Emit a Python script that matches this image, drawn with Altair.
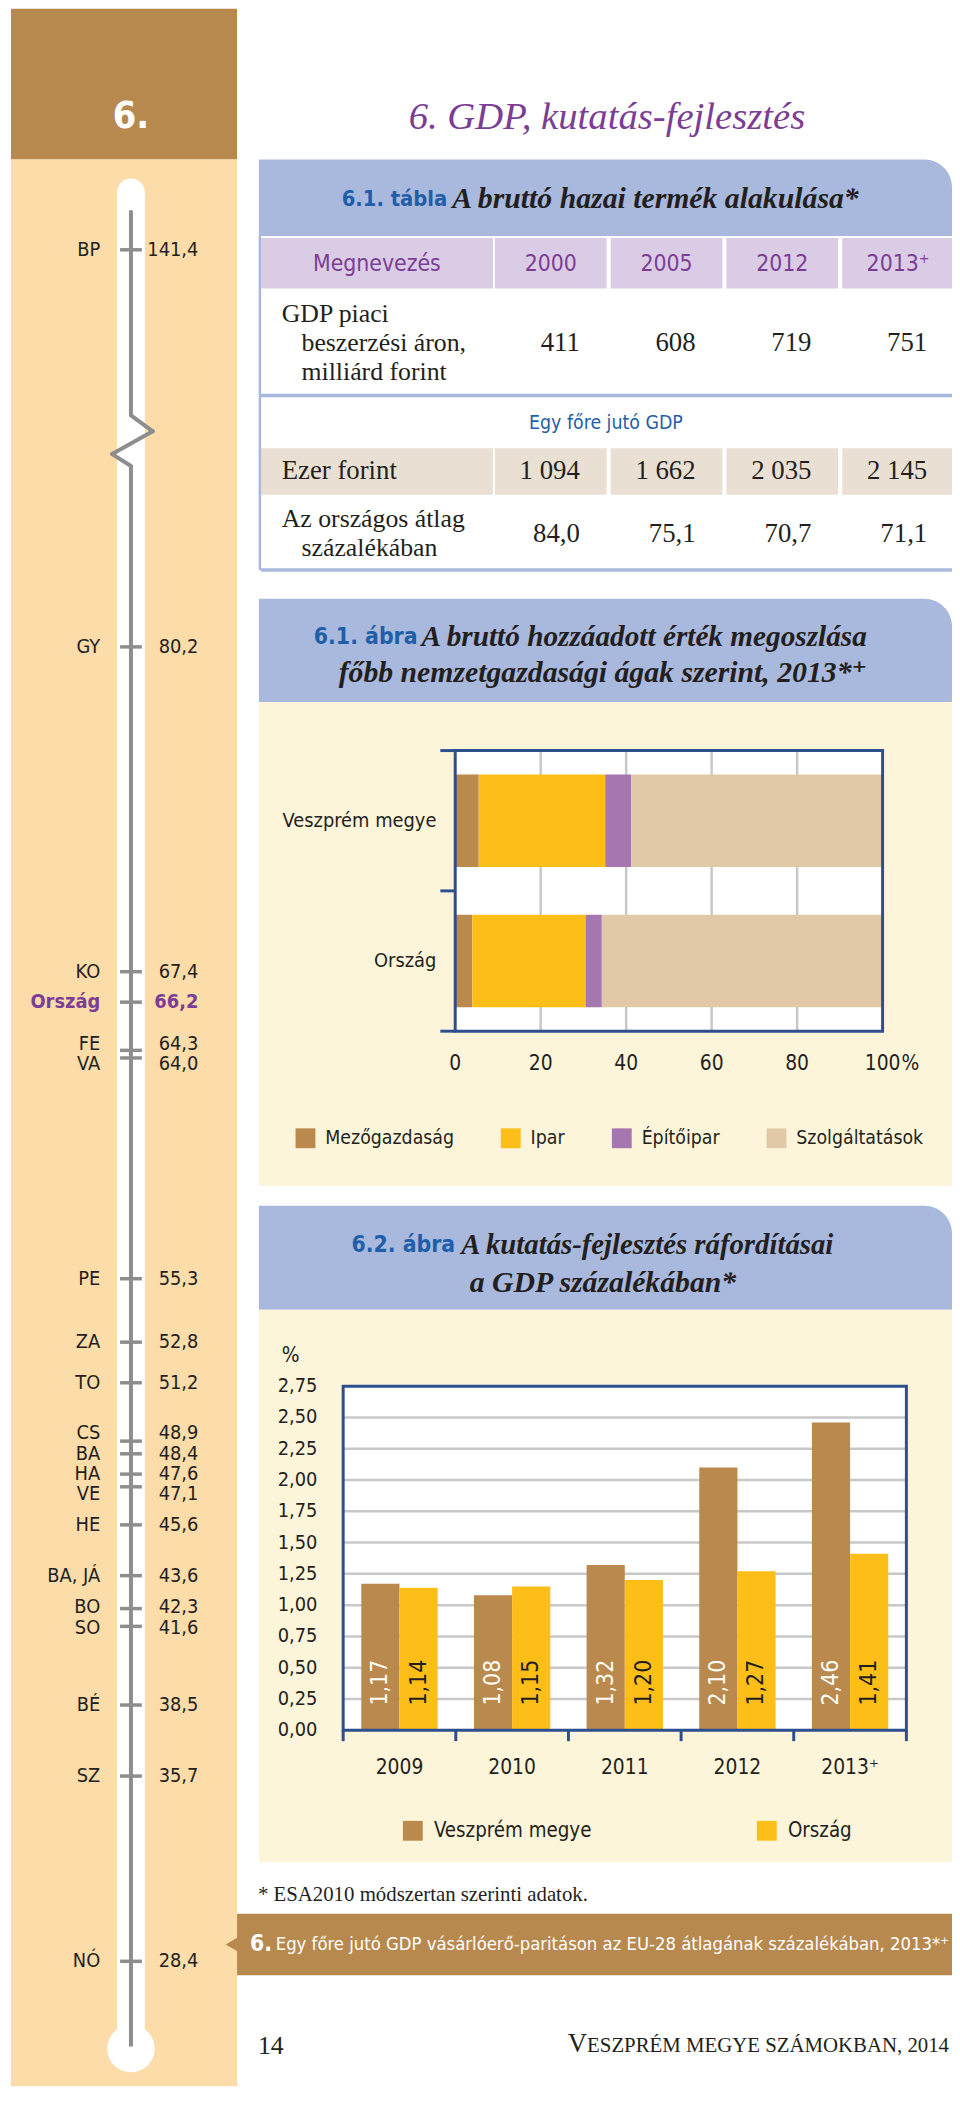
import altair as alt
import pandas as pd

# ---------------- data ----------------
county_codes = ["BP", "GY", "KO", "Ország", "FE", "VA", "PE", "ZA", "TO", "CS", "BA", "HA",
                "VE", "HE", "BA, JÁ", "BO", "SO", "BÉ", "SZ", "NÓ"]
county_values = [141.4, 80.2, 67.4, 66.2, 64.3, 64.0, 55.3, 52.8, 51.2, 48.9, 48.4, 47.6,
                 47.1, 45.6, 43.6, 42.3, 41.6, 38.5, 35.7, 28.4]

table_years = ["2000", "2005", "2012", "2013⁺"]
gdp_billion = [411, 608, 719, 751]
gdp_per_capita = [1094, 1662, 2035, 2145]
gdp_pc_pct = [84.0, 75.1, 70.7, 71.1]

gva_areas = ["Veszprém megye", "Ország"]
gva_sectors = ["Mezőgazdaság", "Ipar", "Építőipar", "Szolgáltatások"]
gva_veszprem = [5.5, 29.6, 6.1, 58.8]
gva_orszag = [4.0, 26.5, 3.8, 65.7]
gva_ticks = [0, 20, 40, 60, 80, 100]

rd_years = ["2009", "2010", "2011", "2012", "2013⁺"]
rd_series = ["Veszprém megye", "Ország"]
rd_veszprem = [1.17, 1.08, 1.32, 2.10, 2.46]
rd_orszag = [1.14, 1.15, 1.20, 1.27, 1.41]
rd_ticks = [0.0, 0.25, 0.5, 0.75, 1.0, 1.25, 1.5, 1.75, 2.0, 2.25, 2.5, 2.75]

# ---------------- style ----------------
BROWN = "#B8894F"
PEACH = "#FCDCA9"
BAND = "#A9B9DE"
CREAM = "#FDF5DA"
LAV = "#DBCCE6"
BEIGE = "#EADFD3"
PURPLE = "#7B3D95"
TBLUE = "#1F5EA8"
DARK = "#231F20"
FRAME = "#2D4F8E"
GRID = "#C8C8C8"
GRAY = "#8D8D8D"
SECTOR_COLORS = ["#B9894E", "#FDBE17", "#A576AF", "#E1C9A7"]
SERIES_COLORS = ["#B9894E", "#FDBE17"]

NARROW = "DejaVu Sans Condensed, Roboto, sans-serif"
SERIF = "Liberation Serif, DejaVu Serif, serif"

OX, OY = 8, 8
W, H = 952, 2091


def px(v):
    return v - OX


def py(v):
    return v - OY


ONE = pd.DataFrame({"k": [0]})


def hu(v, d):
    return f"{v:.{d}f}".replace(".", ",")


def thousands(v):
    return f"{v:,}".replace(",", " ")


def rect(x1, y1, x2, y2, fill, **kw):
    return alt.Chart(ONE).mark_rect(color=fill, **kw).encode(
        x=alt.value(px(x1)), x2=alt.value(px(x2)), y=alt.value(py(y1)), y2=alt.value(py(y2)))


def seg(x1, y1, x2, y2, color, w, cap="butt"):
    return alt.Chart(ONE).mark_rule(color=color, strokeWidth=w, strokeCap=cap).encode(
        x=alt.value(px(x1)), x2=alt.value(px(x2)), y=alt.value(py(y1)), y2=alt.value(py(y2)))


def txt(s, x, y, size, font, color=DARK, align="left", weight="normal", style="normal"):
    return alt.Chart(ONE).mark_text(text=s, fontSize=size, font=font, color=color, align=align,
                                    fontWeight=weight, fontStyle=style, baseline="middle").encode(
        x=alt.value(px(x)), y=alt.value(py(y)))


layers = []

# ---------------- header & left column ----------------
LX = 132          # thermometer axis x
BULB_Y = 2057
layers += [
    rect(11, 0, 239, 152, BROWN),
    rect(11, 152, 239, 2095, PEACH),
    txt("6.", 132, 109, 38, NARROW, "white", "center", "bold"),
    txt("6. GDP, kutatás-fejlesztés", 612, 109, 39, SERIF, PURPLE, "center", "normal", "italic"),
    rect(LX - 14, 171, LX + 14, BULB_Y, "white", cornerRadiusTopLeft=14, cornerRadiusTopRight=14),
    alt.Chart(ONE).mark_circle(size=2300, color="white", opacity=1).encode(
        x=alt.value(px(LX)), y=alt.value(py(BULB_Y))),
    seg(LX, 203, LX, 411, GRAY, 4),
    seg(LX, 410, LX + 22, 426, GRAY, 4, "round"),
    seg(LX + 22, 426, LX - 19, 449, GRAY, 4, "round"),
    seg(LX - 19, 449, LX, 461, GRAY, 4, "round"),
    seg(LX, 460, LX, BULB_Y - 2, GRAY, 4),
]

# thermometer scale (broken axis between GY and BP)
PXU = 25.59


def tpos(v):
    return 971 + (67.4 - v) * PXU


therm_scale = alt.Scale(type="linear", domain=[20, 81, 141.4],
                        range=[py(tpos(20)), py(tpos(81)), py(243)], nice=False, zero=False)


def dodge(vals, gap):
    clusters = [[v] for v in vals]

    def positions(c):
        m = sum(c) / len(c)
        n = len(c)
        return [m + ((n - 1) / 2 - k) * gap for k in range(n)]

    changed = True
    while changed:
        changed = False
        out = [clusters[0]]
        for c in clusters[1:]:
            if positions(out[-1])[-1] - positions(c)[0] < gap - 1e-9:
                out[-1] = out[-1] + c
                changed = True
            else:
                out.append(c)
        clusters = out
    res = []
    for c in clusters:
        res += positions(c)
    return res


label_pos = [county_values[0]] + dodge(county_values[1:], 20.5 / PXU)
therm_df = pd.DataFrame({
    "code": county_codes,
    "val": county_values,
    "lab": label_pos,
    "txt": [hu(v, 1) for v in county_values],
})

TFS = 20
t_ticks = alt.Chart(therm_df).mark_rule(color=GRAY, strokeWidth=3.5).encode(
    x=alt.value(px(LX - 11)), x2=alt.value(px(LX + 11)),
    y=alt.Y("val:Q", scale=therm_scale, axis=None))
t_lab = alt.Chart(therm_df).transform_filter(alt.datum.code != "Ország").mark_text(
    align="right", baseline="middle", font=NARROW, fontSize=TFS, color=DARK).encode(
    x=alt.value(px(101)), y=alt.Y("lab:Q", scale=therm_scale, axis=None), text="code:N")
t_val = alt.Chart(therm_df).transform_filter(alt.datum.code != "Ország").mark_text(
    align="right", baseline="middle", font=NARROW, fontSize=TFS, color=DARK).encode(
    x=alt.value(px(200)), y=alt.Y("lab:Q", scale=therm_scale, axis=None), text="txt:N")
t_lab_h = alt.Chart(therm_df).transform_filter(alt.datum.code == "Ország").mark_text(
    align="right", baseline="middle", font=NARROW, fontSize=TFS, color=PURPLE, fontWeight="bold").encode(
    x=alt.value(px(101)), y=alt.Y("lab:Q", scale=therm_scale, axis=None), text="code:N")
t_val_h = alt.Chart(therm_df).transform_filter(alt.datum.code == "Ország").mark_text(
    align="right", baseline="middle", font=NARROW, fontSize=TFS, color=PURPLE, fontWeight="bold").encode(
    x=alt.value(px(200)), y=alt.Y("lab:Q", scale=therm_scale, axis=None), text="txt:N")
layers.append(alt.layer(t_ticks, t_lab, t_val, t_lab_h, t_val_h))

# ---------------- table 6.1 ----------------
layers += [
    rect(261, 152, 960, 229, BAND, cornerRadiusTopRight=28),
    txt("6.1. tábla", 451, 192, 22, NARROW, TBLUE, "right", "bold"),
    txt("A bruttó hazai termék alakulása*", 456, 192, 30, SERIF, DARK, "left", "bold", "italic"),
    rect(263, 231, 497, 282, LAV),
    rect(263, 443, 497, 490, BEIGE),
    seg(262, 229, 262, 566, BAND, 2.5),
    txt("Megnevezés", 380, 257, 23, NARROW, PURPLE, "center"),
    txt("GDP piaci", 284, 308, 26, SERIF),
    txt("beszerzési áron,", 304, 337, 26, SERIF),
    txt("milliárd forint", 304, 366, 26, SERIF),
    seg(263, 390, 960, 390, BAND, 3.5),
    txt("Egy főre jutó GDP", 611, 418, 19.5, NARROW, TBLUE, "center"),
    txt("Ezer forint", 284, 466, 27, SERIF),
    txt("Az országos átlag", 284, 515, 26, SERIF),
    txt("százalékában", 304, 544, 26, SERIF),
    seg(263, 566, 960, 566, BAND, 3.5),
]

tbl_df = pd.DataFrame({
    "year": table_years,
    "bn": [str(v) for v in gdp_billion],
    "pc": [thousands(v) for v in gdp_per_capita],
    "pct": [hu(v, 1) for v in gdp_pc_pct],
})
tx = alt.Scale(domain=table_years, range=[px(499), px(962)], paddingInner=0.035, paddingOuter=0)
tX = alt.X("year:N", scale=tx, axis=None)
tXr = alt.X("year:N", scale=tx, axis=None, bandPosition=1)
tbl = alt.layer(
    alt.Chart(tbl_df).mark_rect(color=LAV).encode(x=tX, y=alt.value(py(231)), y2=alt.value(py(282))),
    alt.Chart(tbl_df).mark_rect(color=BEIGE).encode(x=tX, y=alt.value(py(443)), y2=alt.value(py(490))),
    alt.Chart(tbl_df).mark_text(font=NARROW, fontSize=23, color=PURPLE, baseline="middle").encode(
        x=tX, y=alt.value(py(257)), text="year:N"),
    alt.Chart(tbl_df).mark_text(font=SERIF, fontSize=27, color=DARK, align="right", dx=-27,
                                baseline="middle").encode(x=tXr, y=alt.value(py(337)), text="bn:N"),
    alt.Chart(tbl_df).mark_text(font=SERIF, fontSize=27, color=DARK, align="right", dx=-27,
                                baseline="middle").encode(x=tXr, y=alt.value(py(466)), text="pc:N"),
    alt.Chart(tbl_df).mark_text(font=SERIF, fontSize=27, color=DARK, align="right", dx=-27,
                                baseline="middle").encode(x=tXr, y=alt.value(py(530)), text="pct:N"),
)
layers.append(tbl)

# ---------------- figure 6.1 ----------------
P1L, P1R, P1T, P1B = 459, 890, 748, 1031
layers += [
    rect(261, 595, 960, 699, BAND, cornerRadiusTopRight=28),
    rect(261, 699, 960, 1187, CREAM),
    txt("6.1. ábra", 421, 634, 23, NARROW, TBLUE, "right", "bold"),
    txt("A bruttó hozzáadott érték megoszlása", 425, 634, 29.5, SERIF, DARK, "left", "bold", "italic"),
    txt("főbb nemzetgazdasági ágak szerint, 2013*⁺", 608, 670, 30, SERIF, DARK, "center", "bold", "italic"),
    rect(P1L, P1T, P1R, P1B, "white"),
]

x61 = alt.Scale(domain=[0, 100], range=[px(P1L), px(P1R)], nice=False, zero=False)
y61 = alt.Scale(domain=gva_areas, range=[py(P1T), py(P1B)], paddingInner=0.34, paddingOuter=0.17)
c61 = alt.Scale(domain=gva_sectors, range=SECTOR_COLORS)

rows = []
for area, vals in zip(gva_areas, [gva_veszprem, gva_orszag]):
    for i, (s, v) in enumerate(zip(gva_sectors, vals)):
        rows.append({"area": area, "sector": s, "value": v, "ord": i})
gva_df = pd.DataFrame(rows)
tick61 = pd.DataFrame({"t": gva_ticks, "lab": [str(t) for t in gva_ticks]})

leg61 = alt.Legend(title=None, orient="none", legendX=px(298), legendY=py(1140) - 11,
                   direction="horizontal", symbolType="square", symbolSize=400, symbolStrokeWidth=0,
                   labelFont=NARROW, labelFontSize=19.5, labelColor=DARK, columnPadding=47,
                   labelOffset=10, padding=0, labelLimit=400, symbolOpacity=1)

fig61 = alt.layer(
    alt.Chart(tick61).transform_filter("datum.t > 0 && datum.t < 100").mark_rule(
        color=GRID, strokeWidth=2.5).encode(
        x=alt.X("t:Q", scale=x61, axis=None), y=alt.value(py(P1T)), y2=alt.value(py(P1B))),
    alt.Chart(gva_df).mark_bar().encode(
        x=alt.X("value:Q", stack="zero", scale=x61, axis=None),
        y=alt.Y("area:N", scale=y61, axis=None),
        color=alt.Color("sector:N", scale=c61, legend=leg61),
        order=alt.Order("ord:Q")),
    alt.Chart(pd.DataFrame({"area": gva_areas})).mark_text(
        align="right", baseline="middle", font=NARROW, fontSize=20, color=DARK).encode(
        x=alt.value(px(440)), y=alt.Y("area:N", scale=y61, axis=None), text="area:N"),
    alt.Chart(tick61).mark_text(baseline="middle", font=NARROW, fontSize=21, color=DARK).encode(
        x=alt.X("t:Q", scale=x61, axis=None), y=alt.value(py(1064)), text="lab:N"),
    alt.Chart(tick61).transform_filter("datum.t == 100").mark_text(
        text="%", align="left", dx=19, baseline="middle", font=NARROW, fontSize=21, color=DARK).encode(
        x=alt.X("t:Q", scale=x61, axis=None), y=alt.value(py(1064))),
)
layers.append(fig61)
layers += [
    rect(P1L, P1T, P1R, P1B, "white", fillOpacity=0, stroke=FRAME, strokeWidth=3),
    seg(444, P1T, P1L, P1T, FRAME, 3),
    seg(444, (P1T + P1B) / 2, P1L, (P1T + P1B) / 2, FRAME, 3),
    seg(444, P1B, P1L, P1B, FRAME, 3),
]

# ---------------- figure 6.2 ----------------
P2L, P2R, P2T, P2B = 346, 914, 1389, 1736
layers += [
    rect(261, 1207, 960, 1312, BAND, cornerRadiusTopRight=28),
    rect(261, 1312, 960, 1869, CREAM),
    txt("6.2. ábra", 459, 1247, 23, NARROW, TBLUE, "right", "bold"),
    txt("A kutatás-fejlesztés ráfordításai", 465, 1247, 29, SERIF, DARK, "left", "bold", "italic"),
    txt("a GDP százalékában*", 608, 1285, 30, SERIF, DARK, "center", "bold", "italic"),
    txt("%", 284, 1359, 21, NARROW),
    rect(P2L, P2T, P2R, P2B, "white"),
]

x62 = alt.Scale(domain=rd_years, range=[px(P2L), px(P2R)], paddingInner=0, paddingOuter=0)
y62 = alt.Scale(domain=[0, 2.75], range=[py(P2B), py(P2T)], nice=False, zero=False)
c62 = alt.Scale(domain=rd_series, range=SERIES_COLORS)

rd_rows = []
for s, vals in zip(rd_series, [rd_veszprem, rd_orszag]):
    for yv, v in zip(rd_years, vals):
        rd_rows.append({"year": yv, "series": s, "value": v, "label": hu(v, 2), "base": 0})
rd_df = pd.DataFrame(rd_rows)
tick62 = pd.DataFrame({"t": rd_ticks, "lab": [hu(t, 2) for t in rd_ticks]})

leg62 = alt.Legend(title=None, orient="none", legendX=px(406), legendY=py(1838) - 11,
                   direction="horizontal", symbolType="square", symbolSize=400, symbolStrokeWidth=0,
                   labelFont=NARROW, labelFontSize=20.5, labelColor=DARK, columnPadding=166,
                   labelOffset=11, padding=0, labelLimit=400, symbolOpacity=1)

BW = 38.5
X62 = alt.X("year:N", scale=x62, axis=None)
fig62 = alt.layer(
    alt.Chart(tick62).transform_filter("datum.t > 0 && datum.t < 2.7").mark_rule(
        color=GRID, strokeWidth=2.5).encode(
        y=alt.Y("t:Q", scale=y62, axis=None), x=alt.value(px(P2L)), x2=alt.value(px(P2R))),
    alt.Chart(rd_df).transform_filter(alt.datum.series == rd_series[0]).mark_bar(
        width=BW, xOffset=-BW / 2).encode(
        x=X62, y=alt.Y("value:Q", scale=y62, axis=None),
        color=alt.Color("series:N", scale=c62, legend=leg62)),
    alt.Chart(rd_df).transform_filter(alt.datum.series == rd_series[1]).mark_bar(
        width=BW, xOffset=BW / 2).encode(
        x=X62, y=alt.Y("value:Q", scale=y62, axis=None),
        color=alt.Color("series:N", scale=c62, legend=leg62)),
    alt.Chart(rd_df).transform_filter(alt.datum.series == rd_series[0]).mark_text(
        angle=270, align="left", baseline="middle", dx=25, xOffset=-BW / 2,
        font=NARROW, fontSize=23, color="#FFFDF5").encode(
        x=X62, y=alt.Y("base:Q", scale=y62, axis=None), text="label:N"),
    alt.Chart(rd_df).transform_filter(alt.datum.series == rd_series[1]).mark_text(
        angle=270, align="left", baseline="middle", dx=25, xOffset=BW / 2,
        font=NARROW, fontSize=23, color=DARK).encode(
        x=X62, y=alt.Y("base:Q", scale=y62, axis=None), text="label:N"),
    alt.Chart(tick62).mark_text(align="right", baseline="middle", font=NARROW, fontSize=20,
                                color=DARK).encode(
        y=alt.Y("t:Q", scale=y62, axis=None), x=alt.value(px(320)), text="lab:N"),
    alt.Chart(pd.DataFrame({"year": rd_years})).mark_text(
        baseline="middle", font=NARROW, fontSize=21, color=DARK).encode(
        x=X62, y=alt.value(py(1774)), text="year:N"),
    alt.Chart(pd.DataFrame({"year": rd_years})).mark_rule(color=FRAME, strokeWidth=3).encode(
        x=alt.X("year:N", scale=x62, axis=None, bandPosition=0),
        y=alt.value(py(P2B)), y2=alt.value(py(P2B + 11))),
)
layers.append(fig62)
layers += [
    rect(P2L, P2T, P2R, P2B, "white", fillOpacity=0, stroke=FRAME, strokeWidth=3),
    seg(P2R, P2B, P2R, P2B + 11, FRAME, 3),
]

# ---------------- footnote, banner, footer ----------------
layers += [
    txt("* ESA2010 módszertan szerinti adatok.", 260, 1902, 21, SERIF),
    rect(239, 1921, 960, 1983, BROWN),
    alt.Chart(ONE).mark_point(shape="triangle-left", filled=True, size=300, color=BROWN, opacity=1).encode(
        x=alt.value(px(235)), y=alt.value(py(1952))),
    txt("6.", 252, 1952, 23, NARROW, "white", "left", "bold"),
    txt("Egy főre jutó GDP vásárlóerő-paritáson az EU-28 átlagának százalékában, 2013*⁺",
        278, 1952, 18.5, NARROW, "white"),
    txt("14", 260, 2054, 26, SERIF),
    txt("V", 592, 2052, 27, SERIF, DARK, "right"),
    txt("ESZPRÉM MEGYE SZÁMOKBAN, 2014", 957, 2054, 21, SERIF, DARK, "right"),
]

chart = alt.layer(*layers).resolve_scale(
    x="independent", y="independent", color="independent"
).resolve_legend(color="independent").properties(
    width=W, height=H, padding=0, autosize=alt.AutoSizeParams(type="none")
).configure_view(strokeWidth=0)

chart.save("out.html", embed_options={"renderer": "svg", "actions": False})
